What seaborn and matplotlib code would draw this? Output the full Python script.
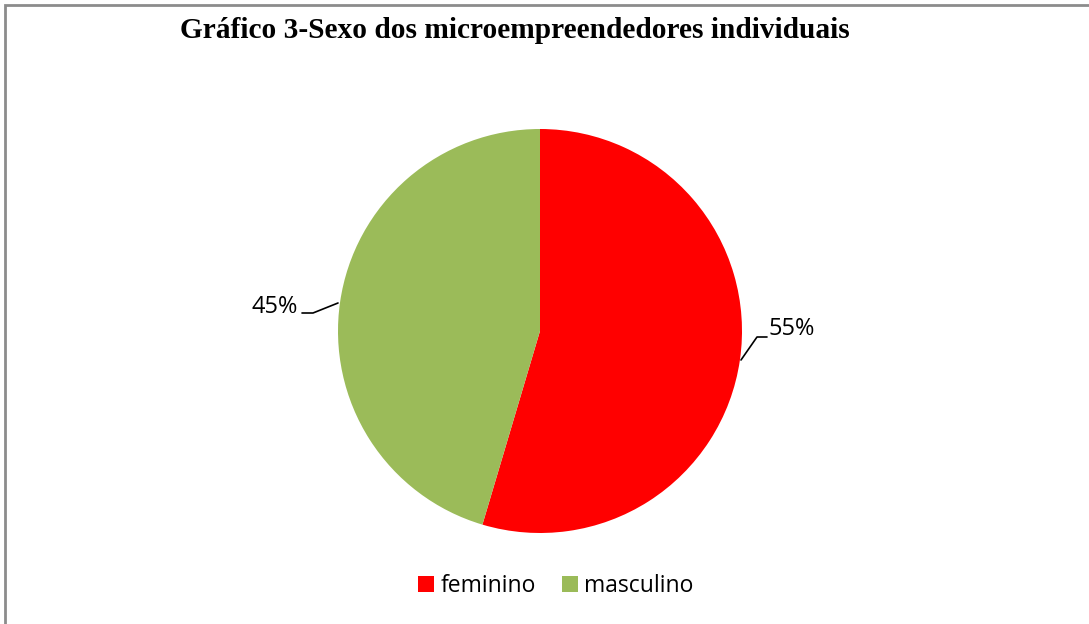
import matplotlib
matplotlib.use('agg')
import matplotlib.pyplot as plt
from matplotlib.patches import Rectangle
import seaborn as sns

categories = ['feminino', 'masculino']
values = [54.6, 45.4]
colors = ['#FF0000', '#9BBB59']
title = 'Gráfico 3-Sexo dos microempreendedores individuais'

sns.set_theme(style='white')
plt.rcParams['font.family'] = ['Open Sans', 'DejaVu Sans']
plt.rcParams['text.color'] = 'black'

W, H = 1089, 624
fig = plt.figure(figsize=(W / 100, H / 100), dpi=100)
fig.patch.set_facecolor('white')

# outer border (runs off the right/bottom like the reference)
fig.patches.append(Rectangle((5 / W, -0.1), 1.2, (H - 5) / H + 0.1,
                             transform=fig.transFigure, fill=False,
                             edgecolor='#8c8c8c', linewidth=2))

cx, cy, r = 540, 331, 202
ax = fig.add_axes([(cx - r) / W, (H - cy - r) / H, 2 * r / W, 2 * r / H])
wedges, _ = ax.pie(values, colors=colors, startangle=90, counterclock=False,
                   radius=1, wedgeprops=dict(linewidth=0))
ax.set_xlim(-1, 1)
ax.set_ylim(-1, 1)
ax.axis('off')


def px(x, y):
    return (x - cx) / r, (cy - y) / r


# leader lines and labels
lines = [[(741, 360), (757, 337), (767, 337)],
         [(338, 303), (313, 313), (302, 313)]]
for pts in lines:
    xs, ys = zip(*[px(*p) for p in pts])
    ax.plot(xs, ys, color='black', lw=1.2, clip_on=False)

lx, ly = px(769, 329)
ax.text(lx, ly, f'{values[0]:.0f}%', ha='left', va='center', fontsize=17,
        color='black', clip_on=False)
lx, ly = px(298, 307)
ax.text(lx, ly, f'{values[1]:.0f}%', ha='right', va='center', fontsize=17,
        color='black', clip_on=False)

fig.text(515 / W, 1 - 31 / H, title, ha='center', va='center', fontsize=21.2,
         fontweight='bold', color='black', family=['Liberation Serif', 'DejaVu Serif'])

leg = fig.legend(wedges, categories, loc='center', bbox_to_anchor=(556 / W, 1 - 586 / H),
                 ncol=2, frameon=False, fontsize=16.5, handlelength=0.68, handleheight=0.68,
                 handletextpad=0.28, columnspacing=1.15)
for t in leg.get_texts():
    t.set_color('black')

fig.savefig('out.png', dpi=100, facecolor='white')
